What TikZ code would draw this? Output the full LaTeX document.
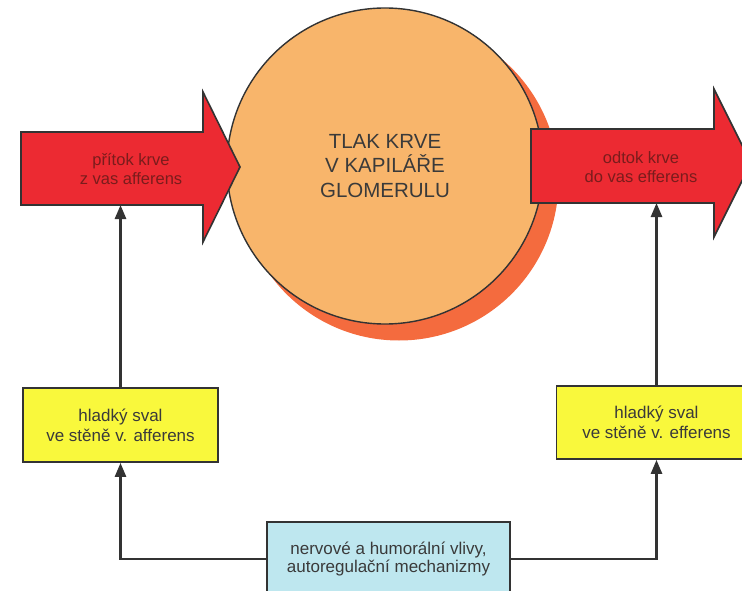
\documentclass[tikz,border=0pt]{standalone}
\usepackage{fontspec}
\setmainfont{Liberation Sans}
\usetikzlibrary{arrows.meta}
\definecolor{redarrow}{HTML}{EC2A32}
\definecolor{redtext}{HTML}{7A1C1C}
\definecolor{circfill}{HTML}{F8B56B}
\definecolor{shadowc}{HTML}{F46B3E}
\definecolor{yellowbox}{HTML}{F9F83C}
\definecolor{bluebox}{HTML}{BEE7EF}
\definecolor{darkline}{HTML}{333333}
\definecolor{txt}{HTML}{3A3A3A}
\tikzset{
  bigarrow/.style={fill=redarrow, draw=darkline, line width=1.6pt, line join=miter},
  arrowtext/.style={text=redtext, align=center, font=\fontsize{16.5}{19.5}\selectfont, inner sep=0pt},
  ybox/.style={draw=darkline, line width=1.7pt, fill=yellowbox, text=txt, align=center, inner sep=0pt,
    font=\fontsize{17}{20}\selectfont},
  bbox/.style={draw=darkline, line width=1.7pt, fill=bluebox, text=txt, align=center, inner sep=0pt,
    font=\fontsize{17}{18.5}\selectfont},
  conn/.style={draw=darkline, line width=2.6pt, -{Triangle[length=14pt,width=11pt]}}
}
\begin{document}
\begin{tikzpicture}[x=1pt,y=-1pt]
\useasboundingbox (0,0) rectangle (742,591);
\clip (0,0) rectangle (742,591);
% shadow and circle
\fill[shadowc] (399,181) circle (159.5);
\node[circle, draw=darkline, line width=1.4pt, fill=circfill, minimum size=316pt, inner sep=0pt,
  text=txt, align=center, font=\fontsize{20.5}{24.5}\selectfont] (glom) at (385,166)
  {TLAK KRVE\\V KAPILÁŘE\\GLOMERULU};
% left big arrow
\draw[bigarrow] (21,132) -- (203,132) -- (203,92) -- (240,167) -- (203,242) -- (203,205) -- (21,205) -- cycle;
\node[arrowtext] (inflow) at (131,169) {přítok krve\\z vas afferens};
\coordinate (inbottom) at (120.5,205);
% right big arrow
\draw[bigarrow] (531,129) -- (714,129) -- (714,89) -- (751,163) -- (714,237) -- (714,203) -- (531,203) -- cycle;
\node[arrowtext] (outflow) at (641,167) {odtok krve\\do vas efferens};
\coordinate (outbottom) at (656.5,203);
% boxes
\node[ybox, minimum width=195pt, minimum height=74pt] (aff) at (120.5,425) {hladký sval\\ve stěně v. afferens};
\node[ybox, minimum width=200pt, minimum height=73pt] (eff) at (656.5,422.5) {hladký sval\\ve stěně v. efferens};
\node[bbox, minimum width=243pt, minimum height=74pt] (ctrl) at (388.5,559) {nervové a humorální vlivy,\\autoregulační mechanizmy};
% connectors
\draw[conn] (aff.north) -- (inbottom);
\draw[conn] (eff.north) -- (outbottom);
\draw[conn] (ctrl.west) -| (aff.south);
\draw[conn] (ctrl.east) -| (eff.south);
\end{tikzpicture}
\end{document}
